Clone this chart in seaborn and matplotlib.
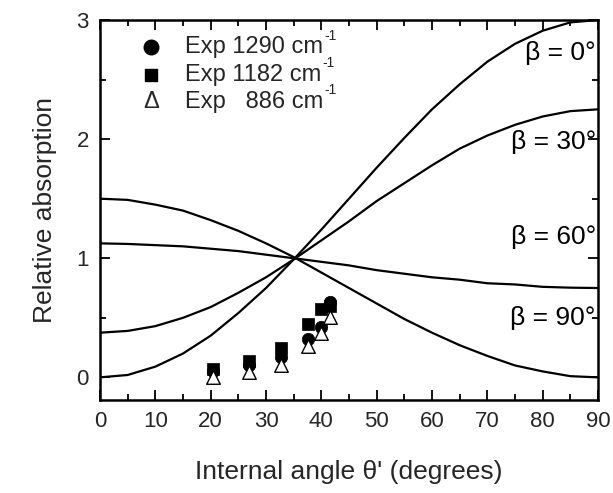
import matplotlib
matplotlib.use("Agg")
import matplotlib.pyplot as plt
import seaborn as sns
import pandas as pd
from matplotlib.ticker import MultipleLocator

sns.set_theme(style="ticks")
plt.rcParams['font.family'] = ['Liberation Sans', 'DejaVu Sans']

theta = [0, 5, 10, 15, 20, 25, 30, 35, 40, 45, 50, 55, 60, 65, 70, 75, 80, 85, 90]
beta0 = [0.0, 0.02, 0.09, 0.20, 0.35, 0.54, 0.75, 0.99, 1.24, 1.50, 1.76, 2.01, 2.25, 2.46, 2.65, 2.80, 2.91, 2.98, 3.0]
beta30 = [0.375, 0.39, 0.43, 0.50, 0.59, 0.71, 0.84, 0.99, 1.15, 1.31, 1.48, 1.63, 1.78, 1.92, 2.03, 2.12, 2.19, 2.235, 2.25]
beta60 = [1.125, 1.12, 1.11, 1.10, 1.08, 1.06, 1.03, 1.00, 0.97, 0.94, 0.90, 0.87, 0.84, 0.82, 0.79, 0.78, 0.76, 0.753, 0.75]
beta90 = [1.5, 1.49, 1.45, 1.40, 1.32, 1.23, 1.125, 1.01, 0.88, 0.75, 0.62, 0.49, 0.375, 0.27, 0.18, 0.10, 0.05, 0.01, 0.0]
curve_labels = ["β = 0°", "β = 30°", "β = 60°", "β = 90°"]
curve_label_y = [2.72, 1.98, 1.18, 0.50]

exp_x = [20.5, 27.0, 32.7, 37.6, 39.9, 41.5]
exp_1290 = [0.05, 0.10, 0.17, 0.32, 0.42, 0.63]
exp_1182 = [0.07, 0.14, 0.25, 0.45, 0.57, 0.60]
exp_886 = [0.00, 0.045, 0.10, 0.26, 0.37, 0.51]
legend_labels = ["Exp 1290 cm", "Exp 1182 cm", "Exp   886 cm"]
legend_sup = "-1"

fig = plt.figure(figsize=(6.13, 4.93), dpi=100)
ax = fig.add_axes([100/613, 1 - 400/493, 498/613, 380/493])

for ys in [beta0, beta30, beta60, beta90]:
    df = pd.DataFrame({"theta": theta, "A": ys})
    sns.lineplot(data=df, x="theta", y="A", ax=ax, color="black", linewidth=1.6)

for lab, yy in zip(curve_labels, curve_label_y):
    ax.text(89.6, yy, lab, ha="right", va="center", fontsize=19, color="black")

sns.scatterplot(x=exp_x, y=exp_1290, ax=ax, marker="o", s=80, color="black", edgecolor="black", linewidth=0.5, zorder=3)
sns.scatterplot(x=exp_x, y=exp_1182, ax=ax, marker="s", s=70, color="black", edgecolor="black", linewidth=0.5, zorder=3)
sns.scatterplot(x=exp_x, y=exp_886, ax=ax, marker="^", s=95, facecolor="white", edgecolor="black", linewidth=1.0, zorder=4)

# legend-like labels
leg_y = [2.77, 2.54, 2.31]
ax.scatter([9.3], [leg_y[0]], marker="o", s=110, color="black")
ax.scatter([9.3], [leg_y[1]], marker="s", s=80, color="black")
ax.text(9.3, leg_y[2], "Δ", ha="center", va="center", fontsize=17)
for yy, lab in zip(leg_y, legend_labels):
    t = ax.text(15.3, yy, lab, ha="left", va="center", fontsize=17)
    ax.annotate(legend_sup, xy=(1.0, 0.72), xycoords=t, xytext=(1, 0),
                textcoords="offset points", ha="left", va="bottom", fontsize=10)

ax.set_xlim(0, 90)
ax.set_ylim(-0.19, 3.0)
ax.xaxis.set_major_locator(MultipleLocator(10))
ax.xaxis.set_minor_locator(MultipleLocator(5))
ax.yaxis.set_major_locator(MultipleLocator(1))
ax.yaxis.set_minor_locator(MultipleLocator(0.5))
ax.tick_params(which="both", direction="in", top=True, right=True, color="black", width=1.3)
ax.tick_params(which="major", length=7, labelsize=16, pad=8)
ax.tick_params(which="minor", length=4)
for sp in ax.spines.values():
    sp.set_linewidth(1.8)
    sp.set_color("black")
    sp.set_visible(True)

ax.set_xlabel("Internal angle θ' (degrees)", fontsize=19, labelpad=20)
ax.set_ylabel("Relative absorption", fontsize=19, labelpad=14)

fig.savefig("out.png", dpi=100, facecolor="white")
